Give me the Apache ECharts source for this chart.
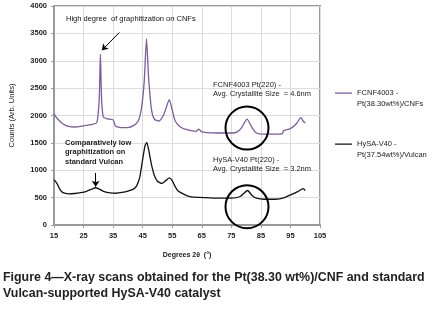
<!DOCTYPE html>
<html>
<head>
<meta charset="utf-8">
<script src="https://cdn.jsdelivr.net/npm/echarts@6/dist/echarts.min.js"></script>
<style>
  html, body { margin: 0; padding: 0; background: #fff; }
  #chart { width: 436px; height: 311px; }
</style>
</head>
<body>
<div id="chart"></div>
<script>
// Pt(38.30wt%)/CNFs scan (degrees 2θ, counts)
const cnfDeg = [15, 16, 18, 20, 22, 24, 26, 28, 29.5, 30.3, 30.7, 31.1, 31.7, 33, 35, 35.8, 38, 40, 42, 43.5, 44.5, 45.5, 46.3, 47, 48, 49, 50.5, 52, 53, 54, 55, 56, 58, 60, 63, 64, 65, 70, 75, 77, 78.5, 80.3, 82, 83.5, 86, 90, 92.3, 92.6, 95, 97, 98.5, 99.3, 100];
const cnfCounts = [2030, 1950, 1850, 1800, 1790, 1800, 1820, 1840, 1870, 2300, 3120, 2300, 1970, 1940, 1920, 1810, 1780, 1780, 1820, 1900, 2100, 2600, 3400, 2700, 2100, 1930, 1900, 2000, 2150, 2290, 2100, 1900, 1780, 1740, 1710, 1750, 1700, 1680, 1680, 1700, 1780, 1935, 1780, 1680, 1660, 1660, 1670, 1720, 1760, 1850, 1960, 1900, 1860];

// HySA-V40 Pt(37.54wt%)/Vulcan scan
const vulcanDeg = [15, 16, 17, 18, 20, 22, 24, 26, 28, 29, 30, 32, 34, 36, 38, 40, 42, 43, 44, 45, 45.8, 46.4, 47, 48, 49, 50, 51.5, 53, 54, 55, 56, 57, 59, 61, 64, 70, 75, 78, 80.5, 82, 83.5, 86, 90, 93, 95, 97.5, 99.3, 100];
const vulcanCounts = [830, 760, 650, 590, 570, 575, 590, 615, 660, 680, 665, 610, 585, 580, 595, 620, 660, 720, 870, 1200, 1450, 1510, 1380, 1100, 900, 800, 760, 820, 860, 810, 700, 620, 560, 520, 505, 490, 490, 520, 630, 540, 490, 470, 470, 500, 550, 610, 665, 630];

const seriesNames = ['FCNF4003 -\nPt(38.30wt%)/CNFs', 'HySA-V40 -\nPt(37.54wt%)/Vulcan'];

// annotations: arrows [from, to] and Pt(220) circles in data coords
const cnfArrow = [[37.1, 3516], [31.2, 3190]];
const vulcanArrow = [[29.1, 950], [29.1, 700]];
const cnfCircle = [80.3, 1770];
const vulcanCircle = [80.3, 335];

const caption = 'Figure 4\u2014X-ray scans obtained for the Pt(38.30 wt%)/CNF and standard\nVulcan-supported HySA-V40 catalyst';

const zip = (xs, ys) => xs.map((x, i) => [x, ys[i]]);

const chart = echarts.init(document.getElementById('chart'));

const labelFont = { fontFamily: 'Liberation Sans', fontSize: 7.5, color: '#222' };

function arrowLine(pts) {
  return {
    silent: true,
    symbol: ['none', 'arrow'],
    symbolSize: 6,
    label: { show: false },
    lineStyle: { color: '#000', width: 1, type: 'solid' },
    data: [[{ coord: pts[0] }, { coord: pts[1] }]]
  };
}

function ring(c) {
  return {
    silent: true,
    symbol: 'circle',
    symbolSize: 43,
    label: { show: false },
    itemStyle: { color: 'rgba(0,0,0,0)', borderColor: '#000', borderWidth: 2 },
    data: [{ coord: c }]
  };
}

const option = {
  backgroundColor: '#fff',
  animation: false,
  grid: {
    left: 52, right: 116, top: 6, bottom: 86,
    show: true, borderColor: '#9a9a9a', borderWidth: 2
  },
  legend: {
    orient: 'vertical',
    left: 330, top: 82,
    itemWidth: 17, itemHeight: 11, itemGap: 29,
    // line drawn at the top of the icon box so it sits level with the first text line
    icon: 'path://M0,0H20V1.2H0Z M0,10H0.01V10.01H0Z',
    symbolKeepAspect: false,
    data: seriesNames,
    textStyle: {
      fontFamily: 'Liberation Sans', fontSize: 7.5, color: '#222', lineHeight: 11
    }
  },
  xAxis: {
    type: 'value', min: 15, max: 105, interval: 10,
    name: 'Degrees 2\u03b8  (\u00b0)',
    nameLocation: 'middle', nameGap: 27,
    nameTextStyle: { ...labelFont, fontWeight: 'bold', fontSize: 7 },
    axisLine: { show: true, lineStyle: { color: '#9a9a9a', width: 2 } },
    axisTick: { show: true, length: 3, lineStyle: { color: '#9a9a9a' } },
    axisLabel: { ...labelFont, fontWeight: 'bold', margin: 7 },
    splitLine: { show: true, lineStyle: { color: '#dcdcdc', width: 1 } }
  },
  yAxis: {
    type: 'value', min: 0, max: 4000, interval: 500,
    name: 'Counts (Arb. Units)',
    nameLocation: 'middle', nameGap: 38, nameRotate: 90,
    nameTextStyle: { ...labelFont, fontSize: 7.5 },
    axisLine: { show: true, lineStyle: { color: '#9a9a9a', width: 2 } },
    axisTick: { show: true, length: 3, lineStyle: { color: '#9a9a9a' } },
    axisLabel: { ...labelFont, fontWeight: 'bold', margin: 7, formatter: v => String(v) },
    splitLine: { show: true, lineStyle: { color: '#dcdcdc', width: 1 } }
  },
  series: [
    {
      name: seriesNames[0],
      type: 'line',
      data: zip(cnfDeg, cnfCounts),
      showSymbol: false,
      smooth: 0.2,
      lineStyle: { color: '#7d5aa6', width: 1.3 },
      itemStyle: { color: '#7d5aa6' },
      markLine: arrowLine(cnfArrow),
      markPoint: ring(cnfCircle)
    },
    {
      name: seriesNames[1],
      type: 'line',
      data: zip(vulcanDeg, vulcanCounts),
      showSymbol: false,
      smooth: 0.2,
      lineStyle: { color: '#111', width: 1.3 },
      itemStyle: { color: '#111' },
      markLine: arrowLine(vulcanArrow),
      markPoint: ring(vulcanCircle)
    }
  ],
  graphic: [
    { type: 'text', left: 66, top: 15, z: 100,
      style: { text: 'High degree  of graphitization on CNFs', font: '7.5px Liberation Sans', fill: '#111' } },
    { type: 'text', left: 65, top: 138, z: 100,
      style: { text: 'Comparatively low\ngraphitization on\nstandard Vulcan', font: 'bold 7.5px Liberation Sans', lineHeight: 9.5, fill: '#222' } },
    { type: 'text', left: 213, top: 80, z: 100,
      style: { text: 'FCNF4003 Pt(220) -\nAvg. Crystallite Size  = 4.6nm', font: '7.5px Liberation Sans', lineHeight: 9, fill: '#222' } },
    { type: 'text', left: 213, top: 155, z: 100,
      style: { text: 'HySA-V40 Pt(220) -\nAvg. Crystallite Size  = 3.2nm', font: '7.5px Liberation Sans', lineHeight: 9, fill: '#222' } },
    { type: 'text', left: 3, top: 269, z: 100, scaleX: 0.92,
      style: { text: caption, font: 'bold 13.5px "Liberation Sans"', lineHeight: 16, fill: '#222' } }
  ]
};

chart.setOption(option);
</script>
</body>
</html>
